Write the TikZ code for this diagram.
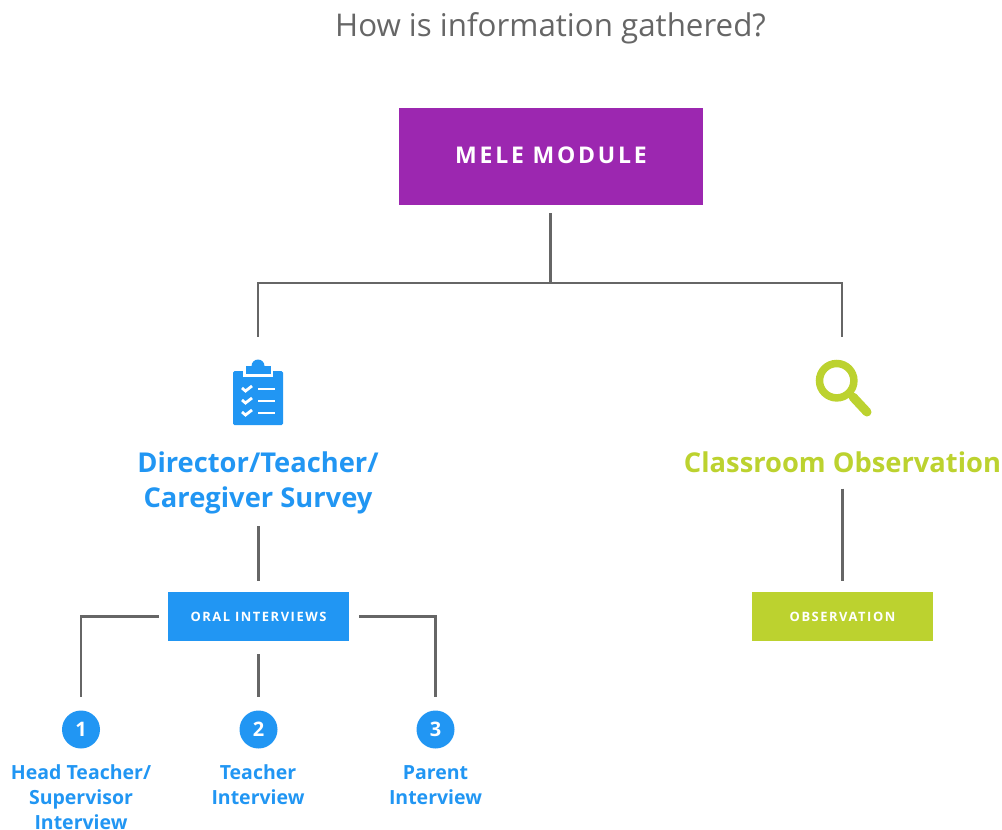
\documentclass[tikz,border=0pt]{standalone}
\usepackage{fontspec}
\setmainfont{Open Sans}
\newfontfamily\spacedbig[LetterSpace = 12]{Open Sans}
\newfontfamily\spacedsmall[LetterSpace = 12]{Open Sans}
\definecolor{melepurple}{HTML}{9C27B0}
\definecolor{meleblue}{HTML}{2196F3}
\definecolor{melelime}{HTML}{BCD22F}
\definecolor{melegrey}{HTML}{666666}
\tikzset{
	link/.style = {draw = melegrey, line width = 2.2pt},
	tagbox/.style = {fill = #1, text = white, minimum width = 181pt, minimum height = 49pt, inner sep = 0pt, font = \spacedsmall\bfseries\fontsize{12.9}{15}\selectfont},
	heading/.style = {text = #1, align = center, inner sep = 0pt, font = \bfseries\fontsize{27.3}{35}\selectfont},
	numdot/.style = {circle, fill = meleblue, text = white, minimum size = 38pt, inner sep = 0pt, font = \bfseries\fontsize{20}{24}\selectfont},
	numlabel/.style = {text = meleblue, align = center, inner sep = 0pt, anchor = north, font = \bfseries\fontsize{19.5}{25}\selectfont},
	iconbox/.style = {minimum width = 54pt, minimum height = 64pt, inner sep = 0pt}
}
\begin{document}
\begin{tikzpicture}[x = 1pt, y = -1pt]
	\useasboundingbox (0,0) rectangle (1002,830);
	\node[text = melegrey, inner sep = 0pt, font = \fontsize{31.3}{40}\selectfont] (title) at (550.5,28) {How is information gathered?};
	\node[fill = melepurple, text = white, minimum width = 304pt, minimum height = 97pt, inner sep = 0pt, font = \spacedbig\bfseries\fontsize{23}{28}\selectfont] (mele) at (551,156.5) {\raisebox{3pt}{MELE MODULE}};
	\coordinate (junction) at (550.5,283);

	\node[iconbox] (clipboard) at (258,393) {};
	\node[iconbox] (lens) at (842,393) {};
	\node[heading = meleblue] (survey) at (258,483) {Director/Teacher/\\Caregiver Survey};
	\node[heading = melelime] (classroom) at (842.5,462) {Classroom Observation};
	\node[tagbox = meleblue] (oral) at (258.5,616.5) {ORAL INTERVIEWS};
	\node[tagbox = melelime] (observation) at (842.5,616.5) {OBSERVATION};

	\node[numdot] (one) at (81,729.5) {1};
	\node[numdot] (two) at (258.5,729.5) {2};
	\node[numdot] (three) at (435.5,729.5) {3};
	\node[numlabel] (headlabel) at (81,764) {Head Teacher/\\Supervisor\\Interview};
	\node[numlabel] (teacherlabel) at (258,764) {Teacher\\Interview};
	\node[numlabel] (parentlabel) at (435.5,765) {Parent\\Interview};

	\begin{scope}[shift = {(clipboard.center)}]
		\fill[meleblue, rounded corners = 1.5pt] (-25,-22) rectangle (25,32);
		\fill[white] (-15,-27) rectangle (15,-16);
		\fill[meleblue] (-12.5,-27) rectangle (12.5,-19);
		\fill[meleblue] (-6.5,-27) arc[start angle = 180, end angle = 360, radius = 6.5] -- cycle;
		\foreach \rowy in {-4,8,20} {
			\draw[white, line width = 2.5pt] (0,\rowy) -- (17,\rowy);
			\draw[white, line width = 2.8pt] (-16,\rowy-1) -- (-12.5,\rowy+2) -- (-6,\rowy-3);
		}
	\end{scope}
	\begin{scope}[shift = {(lens.center)}]
		\draw[melelime, line width = 7.5pt] (-5.3,-12.3) circle[radius = 17.2];
		\draw[melelime, line width = 9pt, line cap = round] (11,4) -- (25,19);
	\end{scope}

	\draw[link, shorten < = 8pt] (mele.south -| junction) -- (junction);
	\draw[link, shorten > = 24pt] (junction) -| (clipboard.north);
	\draw[link, shorten > = 24pt] (junction) -| (lens.north);
	\draw[link, shorten < = 12pt, shorten > = 11pt] (survey.south -| oral) -- (oral.north);
	\draw[link, shorten < = 16pt, shorten > = 11pt] (classroom.south -| observation) -- (observation.north);
	\draw[link, shorten < = 9pt, shorten > = 13pt] (oral.west) -| (one.north);
	\draw[link, shorten < = 13pt, shorten > = 13pt] (oral.south -| two) -- (two.north);
	\draw[link, shorten < = 10pt, shorten > = 13pt] (oral.east) -| (three.north);
\end{tikzpicture}
\end{document}
